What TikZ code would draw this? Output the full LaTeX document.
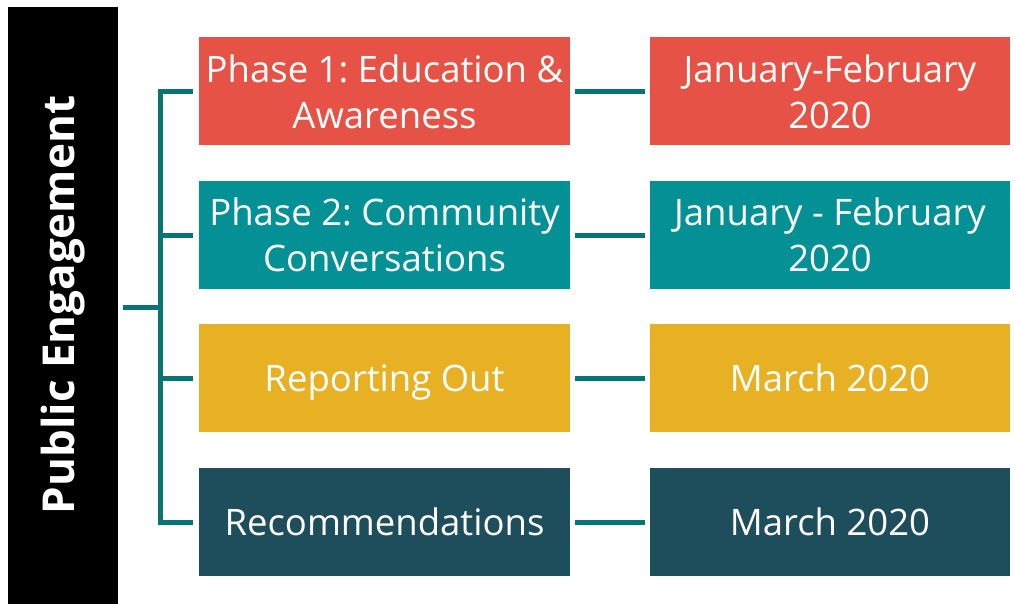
\documentclass[tikz,border=0pt]{standalone}
\usepackage{fontspec}
\setmainfont{Open Sans}
\frenchspacing
\definecolor{cred}{HTML}{E65245}
\definecolor{cteal}{HTML}{039196}
\definecolor{cyellow}{HTML}{E8B023}
\definecolor{cdark}{HTML}{1E4D5C}
\definecolor{cline}{HTML}{077575}
\begin{document}
\begin{tikzpicture}[x=1pt,y=-1pt,
  box/.style={minimum width=371pt,minimum height=108pt,inner sep=0pt,text=white,
    align=center,text depth=0pt,font=\fontsize{36.5}{46}\selectfont},
  rbox/.style={box,minimum width=360pt},
  conn/.style={draw=cline,line width=5pt}]
\useasboundingbox (0,0) rectangle (1014,604);
\node[fill=black,minimum width=110pt,minimum height=597pt,inner sep=0pt,anchor=north west] (bar) at (8,7) {};
\node[rotate=90,text=white,font=\bfseries\fontsize{44}{48}\selectfont] (title) at (63,305) {Public Engagement};
\node[box,fill=cred] (p1) at (384.5,91.5) {Phase 1: Education \&\\Awareness};
\node[box,fill=cteal] (p2) at (384.5,235) {Phase 2: Community\\Conversations};
\node[box,fill=cyellow] (p3) at (384.5,378) {Reporting Out};
\node[box,fill=cdark] (p4) at (384.5,522) {Recommendations};
\node[rbox,fill=cred] (d1) at (830,91.5) {January-February\\2020};
\node[rbox,fill=cteal] (d2) at (830,235) {January - February\\2020};
\node[rbox,fill=cyellow] (d3) at (830,378) {March 2020};
\node[rbox,fill=cdark] (d4) at (830,522) {March 2020};
\coordinate (top) at (160,91.5);
\coordinate (bot) at (160,522);
\coordinate (mid) at (160,307);
\draw[conn] ([xshift=-6pt]p1.west) -- (top) -- (bot) -- ([xshift=-6pt]p4.west);
\draw[conn] (162,307) -- (123,307);
\draw[conn] (160,235) -- ([xshift=-6pt]p2.west);
\draw[conn] (160,378) -- ([xshift=-6pt]p3.west);
\foreach \i in {1,2,3,4}
  \draw[conn] ([xshift=5pt]p\i.east) -- ([xshift=-5pt]d\i.west);
\end{tikzpicture}
\end{document}
